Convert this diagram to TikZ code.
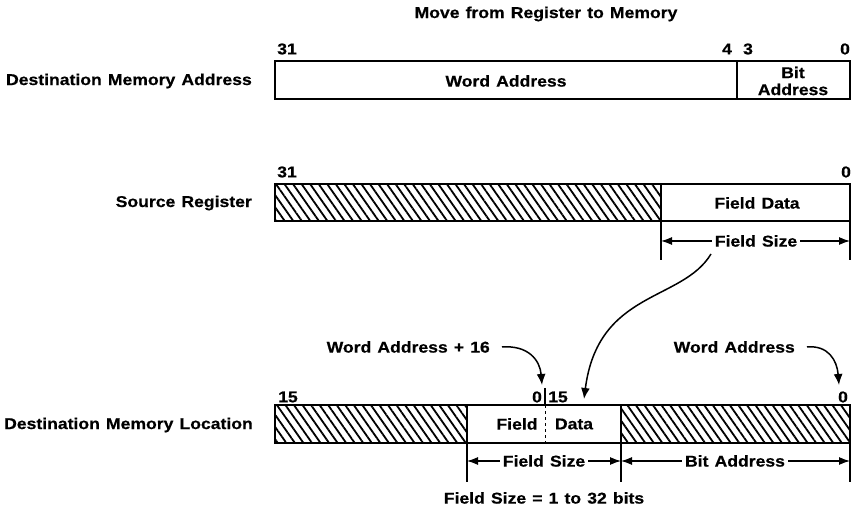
\documentclass[tikz,border=0pt]{standalone}
\usepackage{fontspec}
\setmainfont[FakeStretch=1.12,BoldFeatures={FakeStretch=1.12,FakeBold=0.5},WordSpace=1.25]{Liberation Sans}
\usetikzlibrary{arrows.meta,patterns.meta}
\begin{document}
\begin{tikzpicture}[x=1pt,y=-1pt,
  lbl/.style={font=\fontsize{15.7}{18}\selectfont\bfseries, inner sep=0pt},
  regbox/.style={line width=2.8pt},
  hatch/.style={pattern={Lines[angle=-55,distance=7pt,line width=1.8pt]}},
  dimline/.style={line width=1.2pt,{Latex[length=11pt,width=8pt]}-{Latex[length=11pt,width=8pt]}},
  extline/.style={line width=1.3pt},
  dimtxt/.style={lbl,fill=white,inner xsep=3pt},
  callout/.style={line width=1.5pt,-{Latex[length=11pt,width=9pt]}}]
\useasboundingbox (0,0) rectangle (854,510);

% title
\node[lbl] (title) at (546,14) {Move from Register to Memory};

% ---------------- Destination Memory Address
\node[lbl,anchor=east] (lda) at (252,81) {Destination Memory Address};
\draw[regbox] (275,61) rectangle (850,99);
\draw[regbox] (737,61) -- (737,99);
\node[lbl] (a31) at (287,49) {31};
\node[lbl] (a4) at (727,49) {4};
\node[lbl] (a3) at (748,49) {3};
\node[lbl] (a0) at (845,49) {0};
\node[lbl] (wa) at (506,81) {Word Address};
\node[lbl,align=center] (ba) at (793,81) {Bit\\[-1pt]Address};

% ---------------- Source Register
\node[lbl,anchor=east] (lsr) at (252,203) {Source Register};
\path[hatch] (275,184) rectangle (661,221);
\draw[regbox] (275,184) rectangle (850,221);
\draw[regbox] (661,184) -- (661,221);
\node[lbl] (s31) at (287,172) {31};
\node[lbl] (s0) at (846,172) {0};
\node[lbl] (fd) at (757,203) {Field Data};
\coordinate (e1a) at (661,221); \coordinate (e1b) at (661,260);
\coordinate (e2a) at (850,221); \coordinate (e2b) at (850,260);
\draw[extline] (e1a) -- (e1b);
\draw[extline] (e2a) -- (e2b);
\coordinate (d1l) at (661,241); \coordinate (d1r) at (850,241);
\draw[dimline] (d1l) -- (d1r);
\node[dimtxt] (fs1) at (756,241) {Field Size};

% ---------------- Destination Memory Location
\node[lbl,anchor=east] (lml) at (253,425) {Destination Memory Location};
\path[hatch] (275,405) rectangle (467,443);
\path[hatch] (621,405) rectangle (850,443);
\draw[regbox] (275,405) rectangle (850,443);
\draw[regbox] (467,405) -- (467,443);
\draw[regbox] (621,405) -- (621,443);
\draw[line width=1.3pt] (545,388) -- (545,405);
\draw[line width=1pt,dash pattern=on 3pt off 3pt] (545,405) -- (545,443);
\node[lbl] (m15) at (288,397) {15};
\node[lbl] (m0a) at (537,397) {0};
\node[lbl] (m15b) at (558,397) {15};
\node[lbl] (m0b) at (843,397) {0};
\node[lbl] (mf) at (517,424) {Field};
\node[lbl] (md) at (574,424) {Data};
\foreach \x/\n in {467/p,621/q,850/r}{
  \coordinate (\n a) at (\x,443); \coordinate (\n b) at (\x,482);
  \draw[extline] (\n a) -- (\n b);}
\coordinate (d2l) at (467,461); \coordinate (d2m) at (621,461); \coordinate (d2r) at (850,461);
\draw[dimline] (d2l) -- (d2m);
\draw[dimline] (d2m) -- (d2r);
\node[dimtxt] (fs2) at (544,461) {Field Size};
\node[dimtxt] (ba2) at (735,461) {Bit Address};
\node[lbl] (note) at (544,498) {Field Size = 1 to 32 bits};

% ---------------- callouts
\node[lbl,anchor=east] (wa16) at (490,347) {Word Address + 16};
\node[lbl,anchor=east] (wa0) at (795,347) {Word Address};
\coordinate (t1) at (542,385);
\coordinate (t2) at (839,385);
\coordinate (t3) at (584,399);
\coordinate (s3) at (711,254);
\draw[callout] ([xshift=12pt]wa16.east) .. controls (528,345) and (540,360) .. (t1);
\draw[callout] ([xshift=12pt]wa0.east) .. controls (828,345) and (837,360) .. (t2);
\draw[callout] (s3) .. controls (682,302) and (598,290) .. (t3);
\end{tikzpicture}
\end{document}
